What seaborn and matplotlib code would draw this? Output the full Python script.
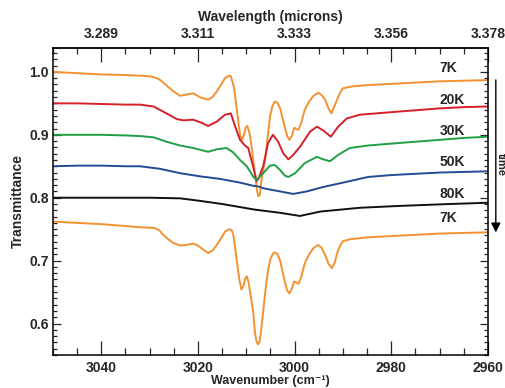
import matplotlib
matplotlib.use("Agg")
import matplotlib.pyplot as plt
from matplotlib.ticker import MultipleLocator
import seaborn as sns

# wavenumber (cm-1) / transmittance pairs
wn_7k_top = [3050, 3045, 3040, 3035, 3032, 3030, 3028.8, 3027.8, 3027.0, 3026, 3025.1, 3023.7, 3022.4, 3021,
             3019.4, 3017.9, 3017, 3016.1, 3015.2, 3014.4, 3013.6, 3013.2, 3012.6, 3012.2, 3011.7,
             3011.3, 3010.9, 3010.5, 3010.1, 3009.8, 3009.4, 3009.0, 3008.5, 3008.1, 3007.8, 3007.5,
             3007.2, 3006.9, 3006.5, 3006.1, 3005.6, 3005.1, 3004.6, 3004.1, 3003.6, 3003.0, 3002.0,
             3001.5, 3001.1, 3000.6, 3000.1, 2999.6, 2999.2, 2998.6, 2997.9, 2997, 2996.1, 2995.1,
             2994.4, 2993.7, 2993, 2992.4, 2991.8, 2991.2, 2990.6, 2990.0, 2988, 2985, 2980, 2975,
             2970, 2965, 2960]
tr_7k_top = [1.000, 0.998, 0.996, 0.995, 0.994, 0.993, 0.991, 0.987, 0.982, 0.975, 0.969, 0.962, 0.964, 0.966,
             0.959, 0.956, 0.960, 0.969, 0.980, 0.990, 0.994, 0.993, 0.977, 0.955, 0.924,
             0.900, 0.892, 0.900, 0.912, 0.914, 0.905, 0.887, 0.855, 0.834, 0.812, 0.802,
             0.805, 0.825, 0.845, 0.860, 0.895, 0.929, 0.946, 0.953, 0.951, 0.942, 0.911,
             0.897, 0.892, 0.898, 0.911, 0.909, 0.908, 0.920, 0.940, 0.953, 0.962, 0.967,
             0.963, 0.956, 0.942, 0.934, 0.945, 0.956, 0.967, 0.974, 0.977, 0.979, 0.981, 0.983,
             0.985, 0.986, 0.987]

wn_20k = [3050, 3045, 3040, 3035, 3032.0, 3029.2, 3026.5, 3024.4, 3023.0, 3021.0, 3019.2, 3017.9,
          3016.1, 3014.4, 3013.2, 3012.3, 3011.3, 3010.3, 3009.6, 3008.6, 3008.1, 3007.9, 3007.5,
          3006.5, 3005.5, 3004.5, 3003.4, 3002.4, 3001.3, 3000.3, 2998.9, 2996.8, 2995.4, 2994.1,
          2992.5, 2991.0, 2989.2, 2986.5, 2984.8, 2980, 2975, 2970, 2965, 2960]
tr_20k = [0.950, 0.950, 0.949, 0.948, 0.948, 0.945, 0.934, 0.925, 0.923, 0.924, 0.919, 0.914,
          0.921, 0.932, 0.934, 0.913, 0.892, 0.883, 0.879, 0.850, 0.833, 0.826, 0.830,
          0.850, 0.887, 0.900, 0.889, 0.871, 0.861, 0.868, 0.881, 0.905, 0.913, 0.907,
          0.897, 0.913, 0.926, 0.932, 0.933, 0.936, 0.939, 0.942, 0.944, 0.945]

wn_30k = [3050, 3045, 3040, 3035, 3032.0, 3029.2, 3026.5, 3023.7, 3021.0, 3017.9, 3016.1, 3014.1,
          3012.7, 3011.3, 3009.9, 3008.6, 3007.9, 3006.5, 3005.1, 3004.1, 3003.0, 3002.0, 3001.3,
          2999.9, 2997.9, 2995.4, 2994.1, 2992.7, 2991.0, 2988.6, 2984.8, 2980, 2975, 2970, 2965, 2960]
tr_30k = [0.900, 0.900, 0.900, 0.899, 0.898, 0.896, 0.889, 0.883, 0.879, 0.873, 0.877, 0.879,
          0.872, 0.860, 0.850, 0.834, 0.828, 0.839, 0.851, 0.852, 0.844, 0.835, 0.833,
          0.839, 0.855, 0.865, 0.861, 0.858, 0.868, 0.879, 0.883, 0.886, 0.889, 0.892, 0.895, 0.897]

wn_50k = [3050, 3045, 3040, 3035, 3032, 3027.9, 3023.7, 3019.6, 3015.5, 3011.3, 3008.6, 3007.5,
          3006.5, 3003.7, 3000.3, 2997.5, 2994.1, 2990.0, 2984.8, 2980, 2975, 2970, 2965, 2960]
tr_50k = [0.850, 0.851, 0.851, 0.850, 0.850, 0.846, 0.839, 0.834, 0.830, 0.824, 0.819, 0.818,
          0.815, 0.811, 0.806, 0.810, 0.817, 0.824, 0.833, 0.836, 0.838, 0.840, 0.841, 0.842]

wn_80k = [3050, 3045, 3040, 3035, 3030, 3023.7, 3019.6, 3015, 3008.2, 3003.0, 2998.9, 2994.7,
          2986.5, 2978.2, 2967.9, 2960]
tr_80k = [0.800, 0.800, 0.800, 0.800, 0.800, 0.799, 0.795, 0.790, 0.781, 0.776, 0.771, 0.778,
          0.784, 0.787, 0.790, 0.792]

wn_7k_bot = [3050, 3045, 3040, 3035, 3032, 3029, 3028, 3027.2, 3026, 3025.1, 3023.7, 3022.4, 3021,
             3020, 3019.2, 3017.9, 3017, 3016.1, 3015.2, 3014.4, 3013.8, 3013.4, 3013.0, 3012.7,
             3012.3, 3011.9, 3011.4, 3011.0, 3010.6, 3010.2, 3009.9, 3009.6, 3009.2, 3008.6, 3008.2,
             3007.9, 3007.6, 3007.3, 3007.0, 3006.5, 3006.1, 3005.5, 3005.0, 3004.5, 3004.1, 3003.6,
             3003.0, 3002.0, 3001.5, 3001.1, 3000.6, 3000.1, 2999.6, 2999.2, 2998.6, 2997.9, 2997,
             2996.1, 2995.1, 2994.4, 2993.7, 2993, 2992.3, 2991.7, 2991.2, 2990.6, 2990.0, 2988.5,
             2985, 2980, 2975, 2970, 2965, 2960]
tr_7k_bot = [0.762, 0.760, 0.758, 0.755, 0.753, 0.752, 0.748, 0.741, 0.733, 0.728, 0.724, 0.725, 0.727,
             0.724, 0.719, 0.712, 0.716, 0.725, 0.736, 0.746, 0.749, 0.750, 0.748, 0.741,
             0.720, 0.696, 0.668, 0.654, 0.660, 0.672, 0.675, 0.668, 0.649, 0.620, 0.585,
             0.572, 0.567, 0.570, 0.585, 0.620, 0.649, 0.685, 0.703, 0.711, 0.713, 0.711,
             0.700, 0.665, 0.652, 0.648, 0.655, 0.667, 0.665, 0.663, 0.675, 0.696, 0.710,
             0.720, 0.725, 0.720, 0.709, 0.695, 0.688, 0.697, 0.712, 0.724, 0.731, 0.734,
             0.737, 0.739, 0.741, 0.743, 0.744, 0.745]

temps = ["7K", "20K", "30K", "50K", "80K", "7K"]
wn_major = [3040, 3020, 3000, 2980, 2960]
wl_labels = ["3.289", "3.311", "3.333", "3.356", "3.378"]
tr_major = [0.6, 0.7, 0.8, 0.9, 1.0]

series = [(wn_7k_top, tr_7k_top, "#F39230"),
          (wn_20k, tr_20k, "#D42028"),
          (wn_30k, tr_30k, "#1FA046"),
          (wn_50k, tr_50k, "#234B91"),
          (wn_80k, tr_80k, "#111111"),
          (wn_7k_bot, tr_7k_bot, "#F39230")]

sns.set_style("ticks")
plt.rcParams["font.family"] = ["Liberation Sans", "DejaVu Sans"]
plt.rcParams["font.weight"] = "bold"
plt.rcParams["axes.labelweight"] = "bold"
plt.rcParams["font.size"] = 10

fig = plt.figure(figsize=(5.06, 3.88), dpi=100)
ax = fig.add_axes([0.1047, 0.0851, 0.8597, 0.7912])

for (wn, tr, col), lab in zip(series, temps):
    sns.lineplot(x=wn, y=tr, ax=ax, color=col, lw=1.4, estimator=None)
    ax.text(2970, tr[0] + 0.006, lab, fontsize=10, fontweight="bold",
            ha="left", va="center")

ax.set_xlim(3050, 2960)
ax.set_ylim(0.55, 1.038)
ax.set_xticks(wn_major)
ax.set_xticklabels([str(w) for w in wn_major])
ax.set_yticks(tr_major)
ax.set_yticklabels([f"{t:.1f}" for t in tr_major])
ax.xaxis.set_minor_locator(MultipleLocator(5))
ax.yaxis.set_minor_locator(MultipleLocator(0.01))
ax.tick_params(axis="x", which="major", direction="in", length=10, width=0.9, pad=4)
ax.tick_params(axis="x", which="minor", direction="in", length=5, width=0.9)
ax.tick_params(axis="y", which="major", direction="in", length=6, width=0.9, pad=3, right=True)
ax.tick_params(axis="y", which="minor", direction="in", length=3, width=0.9, right=True)
for s in ax.spines.values():
    s.set_linewidth(1.1)
    s.set_visible(True)
    s.set_color("black")

ax.set_xlabel("Wavenumber (cm\u207b\u00b9)", fontsize=9, fontweight="bold", labelpad=0.5)
ax.set_ylabel("Transmittance", fontsize=10, fontweight="bold", labelpad=3)

sec = ax.secondary_xaxis("top")
sec.set_xticks(wn_major, labels=wl_labels)
sec.xaxis.set_minor_locator(MultipleLocator(5))
sec.tick_params(which="major", direction="in", length=10, width=0.9, pad=5)
sec.tick_params(which="minor", direction="in", length=4, width=0.9)
sec.spines["top"].set_linewidth(1.1)
sec.set_xlabel("Wavelength (microns)", fontsize=10, fontweight="bold", labelpad=4)

ax.annotate("", xy=(1.018, 0.39), xytext=(1.018, 0.905), xycoords="axes fraction",
            arrowprops=dict(arrowstyle="-|>", color="black", lw=1.0, mutation_scale=14),
            annotation_clip=False)
ax.text(1.03, 0.62, "time", transform=ax.transAxes, rotation=270, fontsize=8,
        fontweight="bold", ha="center", va="center", clip_on=False)

fig.savefig("out.png", dpi=100)
